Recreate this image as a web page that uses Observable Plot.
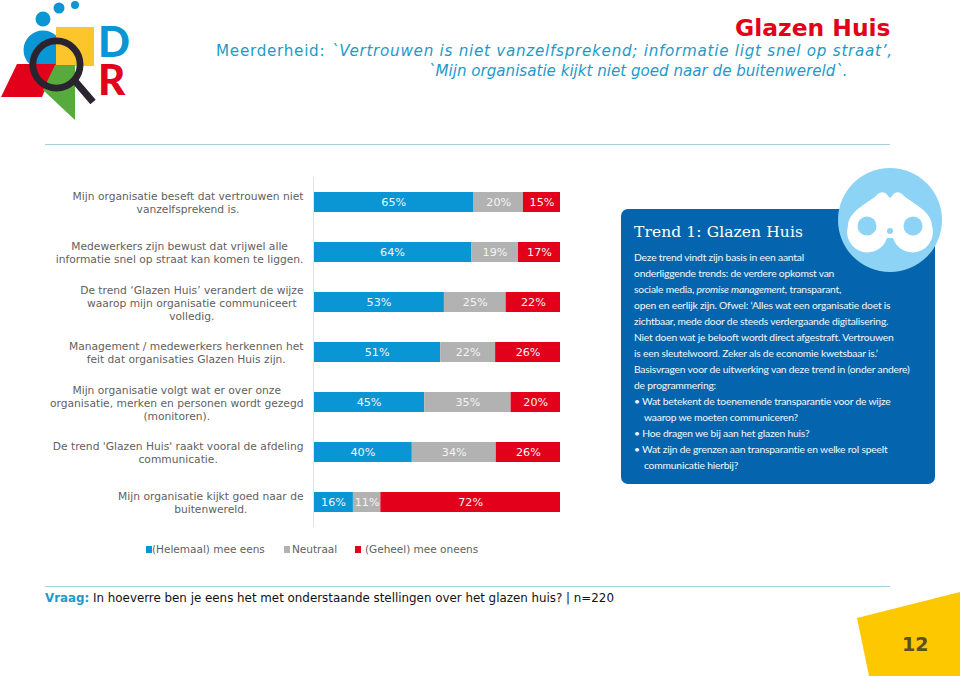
<!DOCTYPE html>
<html lang="nl">
<head>
<meta charset="utf-8">
<title>Glazen Huis</title>
<script src="https://cdn.jsdelivr.net/npm/d3@7"></script>
<script src="https://cdn.jsdelivr.net/npm/@observablehq/plot@0.6"></script>
<style>
html,body{margin:0;padding:0;background:#fff;}
#page{position:relative;width:960px;height:676px;overflow:hidden;font-family:"DejaVu Sans",Verdana,sans-serif;}
.abs{position:absolute;white-space:nowrap;}
#chart{position:absolute;left:0;top:177px;}
#chart svg{display:block;background:transparent;}
.rule{position:absolute;left:45px;width:845px;height:1px;background:#a5cfdd;}
.panelLine{position:absolute;white-space:nowrap;color:#f2f8fc;font:10.3px/16px Lato,sans-serif;letter-spacing:-.2px;}
.legendSwatch{position:absolute;width:6px;height:7px;top:546px;}
.legendText{position:absolute;top:542px;font-size:10.5px;line-height:15px;color:#5f5f5f;white-space:nowrap;}
</style>
</head>
<body>
<div id="page">
  <svg class="abs" style="left:0;top:0" width="135" height="125" viewBox="0 0 135 125">
    <circle cx="75" cy="5" r="4" fill="#0a96d4"/>
    <circle cx="59" cy="8" r="5.5" fill="#0a96d4"/>
    <circle cx="43" cy="19" r="7.5" fill="#0a96d4"/>
    <circle cx="43" cy="50" r="19.5" fill="#0a96d4"/>
    <rect x="56" y="27" width="38" height="39" fill="#fdc52c"/>
    <polygon points="17,64 56,64 42,97 1,97" fill="#e2001a"/>
    <polygon points="55,65 75,65 75,120 43,90" fill="#57ab3c"/>
    <circle cx="56.5" cy="64.5" r="23.6" fill="none" stroke="#2a2430" stroke-width="6.8"/>
    <line x1="75" y1="81" x2="93" y2="102" stroke="#2a2430" stroke-width="7"/>
    <text x="98" y="57" font-family="Lato" font-weight="900" font-size="42" fill="#0a96d4">D</text>
    <text x="98" y="95" font-family="Lato" font-weight="900" font-size="42" fill="#e2001a">R</text>
  </svg>

  <div class="abs" style="right:69.5px;top:13px;font-size:23.4px;line-height:30px;font-weight:bold;color:#e2001a;">Glazen Huis</div>
  <div class="abs" style="left:216px;top:41px;font-size:15.2px;line-height:20px;letter-spacing:.72px;color:#1d9ac9;">Meerderheid: <i>`Vertrouwen is niet vanzelfsprekend; informatie ligt snel op straat’,</i></div>
  <div class="abs" style="left:428px;top:61px;font-size:15.1px;line-height:20px;color:#1d9ac9;"><i>`Mijn organisatie kijkt niet goed naar de buitenwereld`.</i></div>
  <div class="rule" style="top:144px"></div>

  <div id="chart"></div>

  <div class="abs" style="left:621px;top:209px;width:314px;height:275px;background:#0465ae;border-radius:7px;"></div>
  <div class="abs" id="panelText" style="left:0;top:0"></div>
  <svg class="abs" style="left:830px;top:160px" width="120" height="120" viewBox="830 160 120 120">
    <circle cx="890" cy="220" r="52" fill="#8dd3f5"/>
    <path d="M848 226 C848 212 866 204 876 196 C880 191 885 191 888 196 L890 198 L892 196 C895 191 900 191 904 196 C914 204 932 212 932 226 A20 20 0 0 1 893 238 L887 238 A20 20 0 0 1 848 226 Z" fill="#fff"/>
    <circle cx="867" cy="226" r="9.5" fill="#8dd3f5"/>
    <circle cx="913" cy="226" r="9.5" fill="#8dd3f5"/>
    <circle cx="890" cy="231" r="3" fill="#8dd3f5"/>
  </svg>

  <div id="legend"></div>

  <div class="rule" style="top:586px"></div>
  <div class="abs" style="left:45px;top:590px;font-size:11.87px;line-height:16px;color:#111;"><b style="color:#1d9ac9">Vraag:</b> In hoeverre ben je eens het met onderstaande stellingen over het glazen huis? | n=220</div>

  <svg class="abs" style="left:850px;top:585px" width="110" height="91" viewBox="850 585 110 91">
    <polygon points="857,618 960,592 960,676 869,676" fill="#fdc800"/>
  </svg>
  <div class="abs" style="left:902px;top:632px;font-size:19px;line-height:24px;font-weight:bold;color:#5c4f22;">12</div>
</div>

<script>
const labels = [
  "Mijn organisatie beseft dat vertrouwen niet\nvanzelfsprekend is.",
  "Medewerkers zijn bewust dat vrijwel alle\ninformatie snel op straat kan komen te liggen.",
  "De trend ‘Glazen Huis’ verandert de wijze\nwaarop mijn organisatie communiceert\nvolledig.",
  "Management / medewerkers herkennen het\nfeit dat organisaties Glazen Huis zijn.",
  "Mijn organisatie volgt wat er over onze\norganisatie, merken en personen wordt gezegd\n(monitoren).",
  "De trend 'Glazen Huis' raakt vooral de afdeling\ncommunicatie.",
  "Mijn organisatie kijkt goed naar de\nbuitenwereld."
];
const series = ["(Helemaal) mee eens", "Neutraal", "(Geheel) mee oneens"];
const colors = ["#0a96d4", "#b2b2b2", "#e2001a"];
const agree    = [65, 64, 53, 51, 45, 40, 16];
const neutral  = [20, 19, 25, 22, 35, 34, 11];
const disagree = [15, 17, 22, 26, 20, 26, 72];

const panelHeading = "Trend 1: Glazen Huis";
const panelLines = [
  "Deze trend vindt zijn basis in een aantal",
  "onderliggende trends: de verdere opkomst van",
  "sociale media, <i>promise management,</i> transparant,",
  "open en eerlijk zijn. Ofwel: ‘Alles wat een organisatie doet is",
  "zichtbaar, mede door de steeds verdergaande digitalisering.",
  "Niet doen wat je belooft wordt direct afgestraft. Vertrouwen",
  "is een sleutelwoord. Zeker als de economie kwetsbaar is.’",
  "Basisvragen voor de uitwerking van deze trend in (onder andere)",
  "de programmering:",
  "• Wat betekent de toenemende transparantie voor de wijze",
  "   waarop we moeten communiceren?",
  "• Hoe dragen we bij aan het glazen huis?",
  "• Wat zijn de grenzen aan transparantie en welke rol speelt",
  "   communicatie hierbij?"
];

const rows = labels.flatMap((label, i) => [agree, neutral, disagree].map((vals, s) => ({
  label, series: series[s], value: vals[i]
})));

// The labels are centred line by line inside a block whose right edge sits a fixed gap left of the axis.
const labelFontSize = 10.7;
const ctx = document.createElement("canvas").getContext("2d");
ctx.font = `${labelFontSize}px 'DejaVu Sans'`;
const blockWidth = label => d3.max(label.split("\n"), line => ctx.measureText(line).width);

const chart = Plot.plot({
  width: 960,
  height: 350,
  marginTop: 0,
  marginBottom: 0,
  marginLeft: 313,
  marginRight: 400,
  style: {background: "transparent", fontFamily: "'DejaVu Sans', Verdana, sans-serif"},
  x: {axis: null, domain: [0, 1]},
  y: {domain: labels, paddingInner: 0.6, paddingOuter: 0.3, axis: null},
  color: {domain: series, range: colors},
  marks: [
    labels.map(label => Plot.text([label], {
      y: d => d,
      text: d => d,
      frameAnchor: "left",
      textAnchor: "middle",
      dx: -10 - blockWidth(label) / 2,
      fontSize: labelFontSize,
      lineHeight: 1.21,
      fill: "#5f5f5f"
    })),
    Plot.barX(rows, Plot.stackX({x: "value", y: "label", fill: "series", offset: "normalize", order: null})),
    Plot.textX(rows, Plot.stackX({x: "value", y: "label", z: "series", offset: "normalize", order: null,
      text: d => d.value + "%", fill: "#f4f4f4", fontSize: 11.2})),
    Plot.ruleX([0], {stroke: "#e2e2e2"})
  ]
});
document.getElementById("chart").appendChild(chart);

// Text panel
const panel = document.getElementById("panelText");
const h = document.createElement("div");
h.className = "abs";
h.style.cssText = "left:634px;top:222px;font:15.5px/20px 'DejaVu Serif',serif;color:#fff;letter-spacing:.1px;";
h.textContent = panelHeading;
panel.appendChild(h);
panelLines.forEach((t, i) => {
  const d = document.createElement("div");
  d.className = "panelLine";
  d.style.left = (t.startsWith("   ") ? 644 : 634) + "px";
  d.style.top = (249 + i * 16) + "px";
  d.innerHTML = t.trim();
  panel.appendChild(d);
});

// Legend
const legend = document.getElementById("legend");
const swatchX = [146, 284, 355];
const textX = [152, 292, 365];
series.forEach((s, i) => {
  const sw = document.createElement("div");
  sw.className = "legendSwatch";
  sw.style.left = swatchX[i] + "px";
  sw.style.background = colors[i];
  legend.appendChild(sw);
  const t = document.createElement("div");
  t.className = "legendText";
  t.style.left = textX[i] + "px";
  t.textContent = s;
  legend.appendChild(t);
});
</script>
</body>
</html>
